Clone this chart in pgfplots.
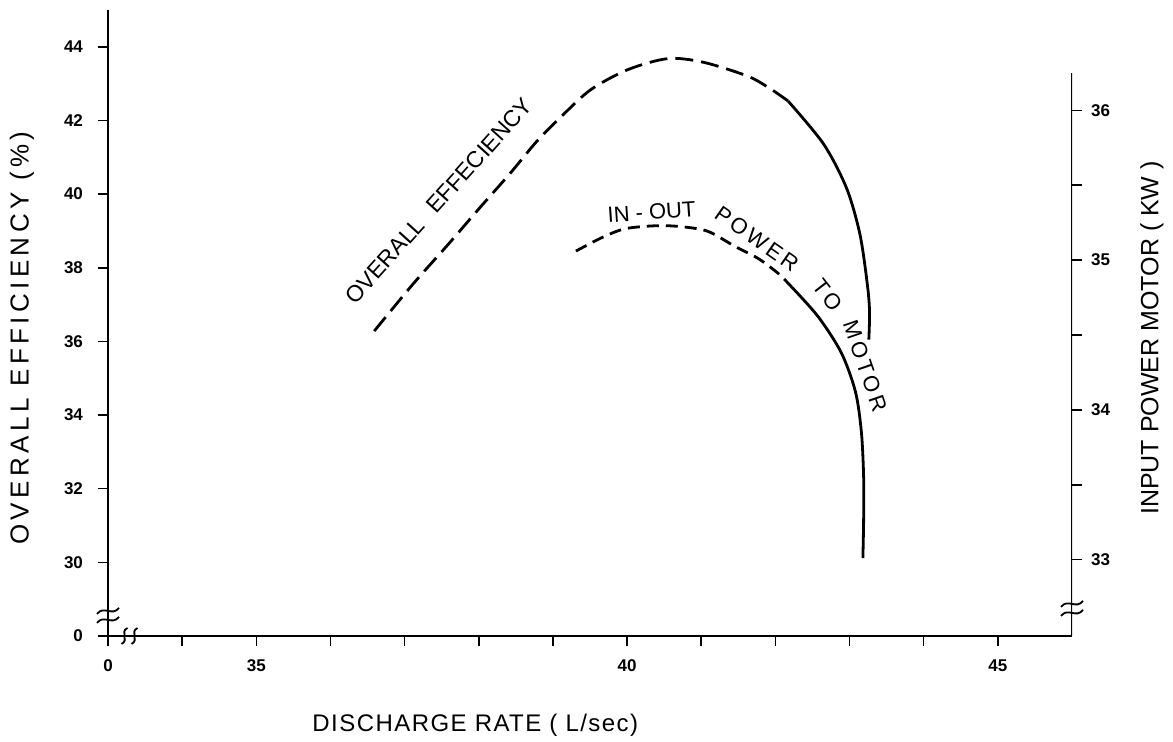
\documentclass[border=0pt]{standalone}
\usepackage{pgfplots}
\pgfplotsset{compat=1.18}
\usepackage{fontspec}
\setmainfont{Liberation Sans}
\begin{document}
\begin{tikzpicture}
\begin{axis}[
  name=main,
  scale only axis,
  width=482pt, height=313pt,
  xmin=33, xmax=46, ymin=28, ymax=45,
  axis x line*=bottom, axis y line*=left,
  axis line style={line width=1pt},
  xtick={33,35,40,45}, xticklabels={0,35,40,45},
  minor xtick={34,36,37,38,39,41,42,43,44},
  ytick={28,30,32,34,36,38,40,42,44}, yticklabels={0,30,32,34,36,38,40,42,44},
  tick align=outside,
  major tick length=5pt, minor tick length=5pt,
  every tick/.style={black, line width=0.8pt},
  every minor tick/.style={black, line width=0.8pt},
  tick label style={font=\bfseries\fontsize{8.5}{10}\selectfont},
  /pgf/number format/assume math mode=true,
  xticklabel style={yshift=-3.5pt},
  yticklabel style={xshift=-4pt},
  xlabel={DISCHARGE RATE ( L/sec)},
  xlabel style={at={(axis description cs:0.381,0)}, anchor=center, yshift=-44.5pt,
    font=\fontsize{12}{14}\selectfont\addfontfeatures{LetterSpace=6}},
  ylabel={OVERALL EFFICIENCY (\%)},
  ylabel style={at={(axis description cs:-0.0892,0.476)}, anchor=center,
    font=\fontsize{13}{15}\selectfont\addfontfeatures{LetterSpace=17}},
]
% overall efficiency, dashed part
\addplot[black, line width=1.4pt, smooth, dash pattern=on 9pt off 4pt] coordinates {
 (36.59,36.28) (37.11,37.55) (37.59,38.64) (38.01,39.62) (38.43,40.58)
 (38.79,41.45) (39.16,42.2) (39.52,42.85) (40.01,43.38) (40.55,43.68)
 (41.03,43.58) (41.63,43.2) (41.94,42.85) (42.17,42.53)};
% overall efficiency, solid part
\addplot[black, line width=1.4pt, smooth] coordinates {
 (42.17,42.53) (42.65,41.36) (42.96,40.16) (43.14,38.91) (43.24,37.55)
 (43.27,36.8) (43.26,36.05)};
% right axis line
\draw[line width=1pt] (axis cs:46,28) -- (axis cs:46,43.29);
% anchor points of the axis break marks
\coordinate (BL) at (axis cs:33,28.6);
\coordinate (BX) at (axis cs:33.29,28);
\coordinate (BR) at (axis cs:46,28.79);
% curve labels
\node[rotate=48, font=\fontsize{11.5}{13}\selectfont] at (axis cs:37.46,39.82) {OVERALL\hspace{0.4em} EFFECIENCY};
\node[rotate=4, font=\fontsize{11}{13}\selectfont] at (axis cs:40.33,39.51) {IN - OUT};
\node[rotate=-35, font=\fontsize{11}{13}\selectfont\addfontfeatures{LetterSpace=15}] at (axis cs:41.75,38.78) {POWER};
\node[rotate=-52, font=\fontsize{11}{13}\selectfont\addfontfeatures{LetterSpace=15}] at (axis cs:42.70,37.26) {TO};
\node[rotate=-71, font=\fontsize{11}{13}\selectfont\addfontfeatures{LetterSpace=15}] at (axis cs:43.21,35.33) {MOTOR};
\end{axis}
\begin{axis}[
  scale only axis,
  width=482pt, height=313pt,
  at={(main.south west)}, anchor=south west,
  xmin=33, xmax=46, ymin=32.49, ymax=36.67,
  hide x axis,
  axis y line*=right,
  y axis line style={draw opacity=0},
  ytick={33,34,35,36},
  minor ytick={33.5,34.5,35.5},
  tick align=outside,
  major tick length=5pt, minor tick length=5pt,
  every tick/.style={black, line width=0.8pt},
  every minor tick/.style={black, line width=0.8pt},
  tick label style={font=\bfseries\fontsize{8.5}{10}\selectfont},
  /pgf/number format/assume math mode=true,
  yticklabel style={xshift=1pt},
  ylabel={INPUT POWER MOTOR ( KW )},
  ylabel style={at={(axis description cs:1.083,0.476)}, anchor=center,
    font=\fontsize{12.5}{15}\selectfont},
]
% in-out power to motor, dashed part
\addplot[black, line width=1.4pt, smooth, dash pattern=on 6pt off 3.5pt] coordinates {
 (39.31,35.06) (39.66,35.15) (39.98,35.21) (40.43,35.23) (40.79,35.22)
 (41.10,35.19) (41.46,35.09) (41.77,35.01) (42.04,34.91) (42.22,34.82)};
% in-out power to motor, solid part
\addplot[black, line width=1.4pt, smooth] coordinates {
 (42.22,34.82) (42.58,34.62) (42.89,34.38) (43.08,34.12) (43.16,33.85)
 (43.19,33.55) (43.19,33.27) (43.18,33.01)};
\end{axis}
% axis break marks
\foreach \P in {BL,BR}{
  \draw[line width=0.9pt] ([shift={(-5.5pt,-4.5pt)}]\P) .. controls ([shift={(-2pt,0pt)}]\P) and ([shift={(2pt,-6pt)}]\P) .. ([shift={(5.5pt,-1.5pt)}]\P);
  \draw[line width=0.9pt] ([shift={(-5.5pt,0pt)}]\P) .. controls ([shift={(-2pt,4.5pt)}]\P) and ([shift={(2pt,-1.5pt)}]\P) .. ([shift={(5.5pt,3pt)}]\P);
}
\draw[line width=0.9pt] ([shift={(-4pt,-4pt)}]BX) .. controls ([shift={(0pt,-2pt)}]BX) and ([shift={(-5pt,2pt)}]BX) .. ([shift={(-1pt,4pt)}]BX);
\draw[line width=0.9pt] ([shift={(1pt,-4pt)}]BX) .. controls ([shift={(5pt,-2pt)}]BX) and ([shift={(0pt,2pt)}]BX) .. ([shift={(4pt,4pt)}]BX);
\pgfresetboundingbox
\path[use as bounding box] ([xshift=-54pt,yshift=-53pt]main.south west) rectangle ([xshift=50.5pt,yshift=5pt]main.north east);
\end{tikzpicture}
\end{document}
